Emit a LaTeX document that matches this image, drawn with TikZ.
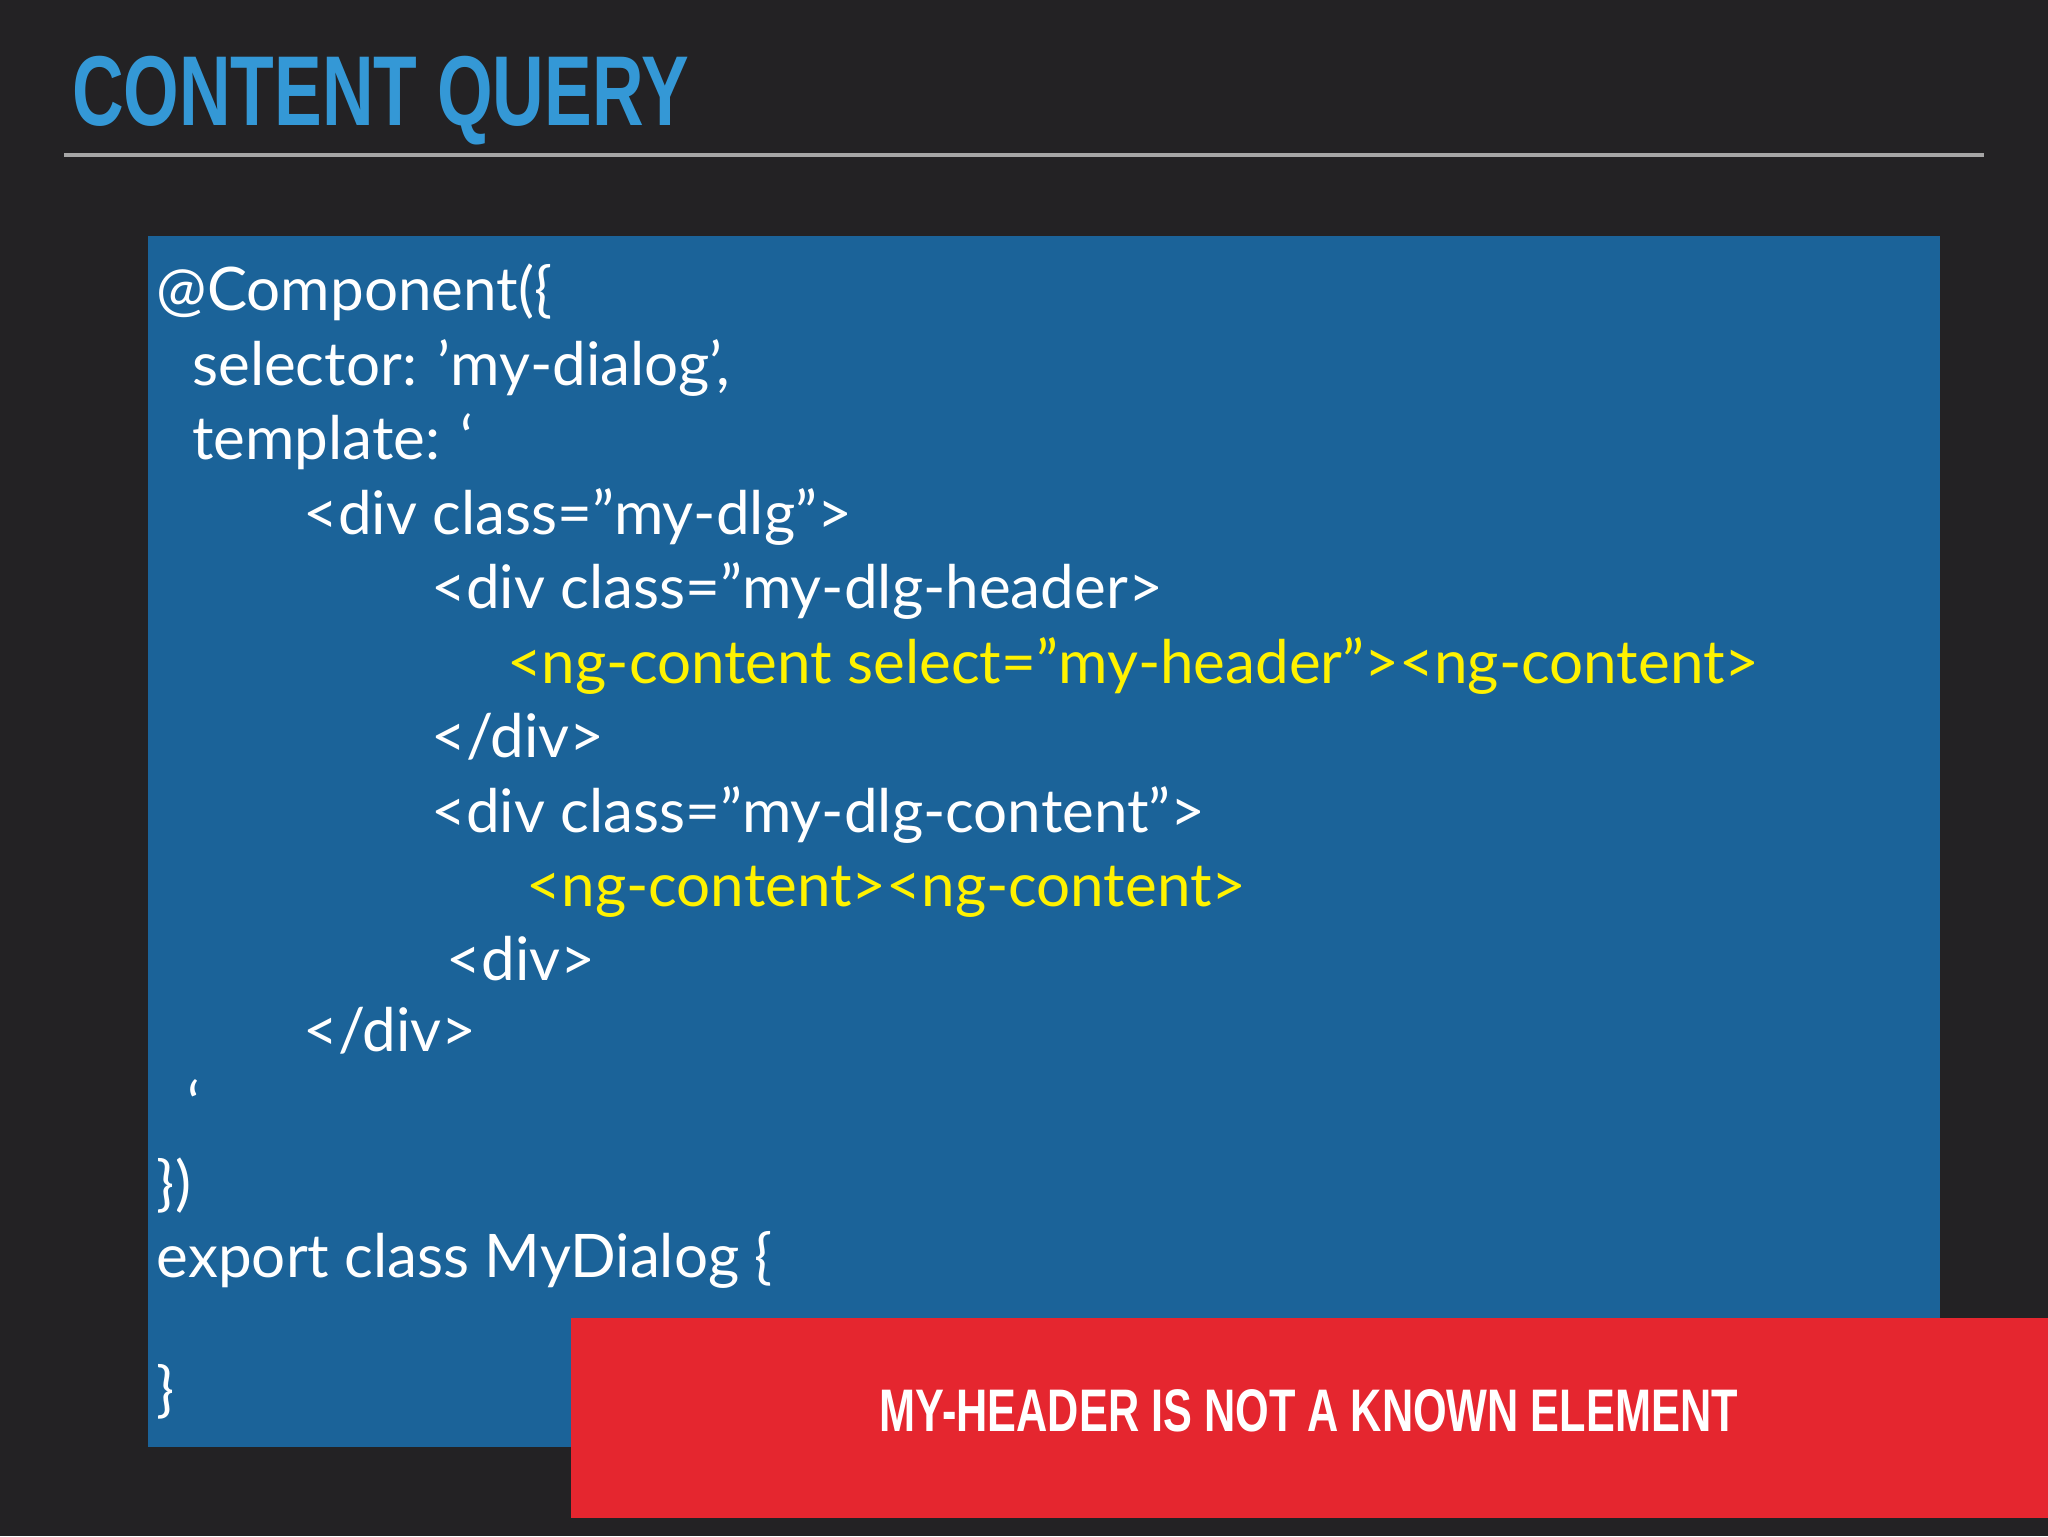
\documentclass[tikz,border=0pt]{standalone}
\usepackage{fontspec}
\setmainfont{Lato}
\newfontfamily\titlefont[FakeStretch=0.72]{Liberation Sans Bold}
\definecolor{bg}{RGB}{35,34,36}
\definecolor{titleblue}{RGB}{52,152,214}
\definecolor{boxblue}{RGB}{27,99,153}
\definecolor{errred}{RGB}{229,38,47}
\definecolor{hl}{RGB}{255,242,0}
\begin{document}
\begin{tikzpicture}[x=1pt,y=-1pt,
  code/.style={anchor=base west,inner sep=0pt,text=white,font=\fontsize{46}{46}\selectfont},
  yel/.style={code,text=hl}]
\fill[bg] (0,0) rectangle (1568,1176);
\useasboundingbox (0,0) rectangle (1568,1176);
\node[anchor=base west,inner sep=0pt,text=titleblue,font=\titlefont\fontsize{76}{76}\selectfont] (title) at (55,96) {CONTENT QUERY};
\draw[line width=3pt,gray!70] (49,119) -- (1519,119);
\fill[boxblue] (113,181) rectangle (1485,1108);
\node[code] (l1) at (120,238) {@Component(\{};
\node[code] (l2) at (147,295) {selector: 'my-dialog',};
\node[code] (l3) at (147,352) {template: `};
\node[code] (l4) at (232,409) {<div class="my-dlg">};
\node[code] (l5) at (330,466) {<div class="my-dlg-header>};
\node[yel] (l6) at (388,523) {<ng-content select="my-header"><ng-content>};
\node[code] (l7) at (330,580) {</div>};
\node[code] (l8) at (330,637) {<div class="my-dlg-content">};
\node[yel] (l9) at (403,694) {<ng-content><ng-content>};
\node[code] (l10) at (342,751) {<div>};
\node[code] (l11) at (232,805) {</div>};
\node[code] (l12) at (143,862) {`};
\node[code] (l14) at (120,922) {\})};
\node[code] (l15) at (120,978) {export class MyDialog \{};
\node[code] (l17) at (120,1080) {\}};
\fill[errred] (437,1009) rectangle (1568,1162);
\node[text=white,font=\titlefont\fontsize{46}{46}\selectfont] (err) at (1002,1080) {MY-HEADER IS NOT A KNOWN ELEMENT};
\end{tikzpicture}
\end{document}
